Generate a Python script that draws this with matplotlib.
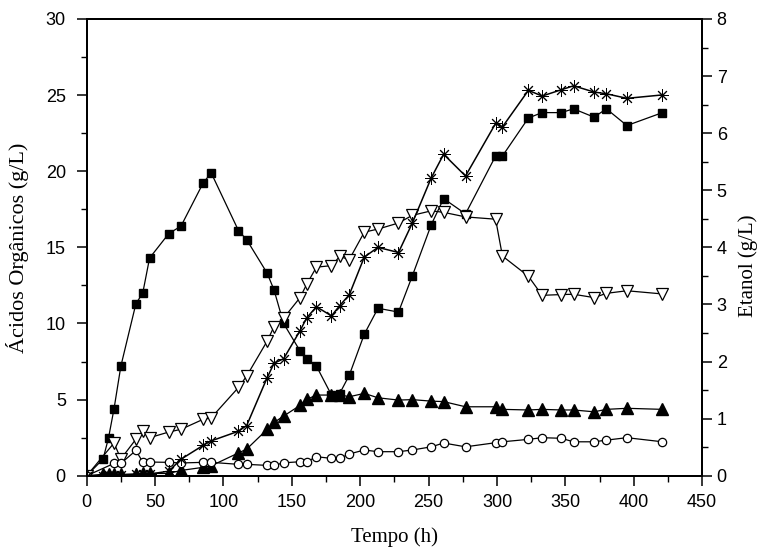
import matplotlib
matplotlib.use('Agg')
import matplotlib.pyplot as plt
from matplotlib.ticker import MultipleLocator

# Tempo (h) - common sampling times
tempo = [0, 12, 16, 20, 25, 36, 41, 46, 60, 69, 85, 91, 111, 117, 132, 137, 144,
         156, 161, 168, 179, 185, 192, 203, 213, 228, 238, 252, 261, 277, 299,
         304, 323, 333, 347, 356, 371, 380, 395, 421]

# filled squares (g/L, left axis)
quadrados = [0, 1.1, 2.5, 4.4, 7.2, 11.3, 12.0, 14.3, 15.9, 16.4, 19.2, 19.9, 16.1,
             15.5, 13.3, 12.2, 10.0, 8.2, 7.7, 7.2, 5.3, 5.4, 6.6, 9.3, 11.0, 10.75,
             13.1, 16.5, 18.2, 17.2, 21.0, 21.0, 23.5, 23.85, 23.85, 24.1, 23.55,
             24.1, 23.0, 23.85]

# open down triangles (g/L, left axis)
tempo_tri = [0, 20, 25, 36, 41, 46, 60, 69, 85, 91, 111, 117, 132, 137, 144, 156,
             161, 168, 179, 185, 192, 203, 213, 228, 238, 252, 261, 277, 299, 304,
             323, 333, 347, 356, 371, 380, 395, 421]
triangulos = [0, 2.15, 1.1, 2.4, 2.94, 2.5, 2.87, 3.05, 3.7, 3.8, 5.8, 6.55, 8.85,
              9.8, 10.35, 11.7, 12.6, 13.7, 13.8, 14.4, 14.2, 16.0, 16.2, 16.6,
              17.1, 17.4, 17.3, 17.0, 16.85, 14.43, 13.1, 11.85, 11.9, 11.92, 11.7,
              11.98, 12.15, 11.94]

# filled up triangles (g/L, left axis)
triangulos_ch = [0, 0.1, 0.1, 0.1, 0.1, 0.1, 0.15, 0.15, 0.15, 0.35, 0.55, 0.65, 1.5,
                 1.75, 3.05, 3.5, 3.92, 4.62, 5.02, 5.3, 5.3, 5.32, 5.19, 5.41, 5.12,
                 4.97, 5.0, 4.9, 4.87, 4.53, 4.53, 4.36, 4.32, 4.36, 4.32, 4.32, 4.2,
                 4.36, 4.43, 4.36]

# open circles (g/L, left axis)
circulos = [0, 0.81, 0.81, 1.66, 0.9, 0.9, 0.88, 0.84, 0.88, 0.88, 0.75, 0.75, 0.68,
            0.68, 0.85, 0.92, 0.92, 1.25, 1.14, 1.14, 1.43, 1.69, 1.58, 1.58, 1.69,
            1.9, 2.15, 1.9, 2.17, 2.23, 2.39, 2.5, 2.46, 2.23, 2.23, 2.34, 2.5, 2.23]

# etanol (g/L, right axis)
etanol = [0, 0, 0.01, 0.01, 0.01, 0.03, 0.03, 0.03, 0.08, 0.29, 0.53, 0.61, 0.78,
          0.88, 1.72, 1.97, 2.05, 2.54, 2.77, 2.96, 2.80, 2.98, 3.17, 3.83, 4.0,
          3.91, 4.42, 5.22, 5.63, 5.25, 6.17, 6.11, 6.75, 6.65, 6.76, 6.83, 6.72,
          6.69, 6.61, 6.67]

serif = ['Liberation Serif', 'DejaVu Serif']
plt.rcParams['font.family'] = ['Liberation Sans', 'DejaVu Sans']
plt.rcParams['font.size'] = 13

fig = plt.figure(figsize=(7.57, 5.5), dpi=100)
ax = fig.add_axes([0.1145, 0.135, 0.813, 0.8305])
ax2 = ax.twinx()

lw = 0.9
ax.plot(tempo, quadrados, color='black', lw=lw, marker='s', ms=6,
        mfc='black', mec='black', zorder=3)
ax.plot(tempo_tri, triangulos, color='black', lw=lw, marker='v', ms=8,
        mfc='white', mec='black', mew=0.9, zorder=3)
ax.plot(tempo, triangulos_ch, color='black', lw=lw, marker='^', ms=8,
        mfc='black', mec='black', zorder=3)
ax.plot(tempo_tri, circulos, color='black', lw=lw, marker='o', ms=6,
        mfc='white', mec='black', mew=0.9, zorder=3)
ax2.plot(tempo, etanol, color='black', lw=1.1, marker=(8, 2, 0), ms=9,
         mec='black', mew=0.7, zorder=3)

ax.set_xlim(0, 450)
ax.set_ylim(0, 30)
ax2.set_ylim(0, 8)

ax.xaxis.set_major_locator(MultipleLocator(50))
ax.xaxis.set_minor_locator(MultipleLocator(25))
ax.yaxis.set_major_locator(MultipleLocator(5))
ax.yaxis.set_minor_locator(MultipleLocator(2.5))
ax2.yaxis.set_major_locator(MultipleLocator(1))
ax2.yaxis.set_minor_locator(MultipleLocator(0.5))

for a in (ax, ax2):
    for s in a.spines.values():
        s.set_linewidth(1.4)
    a.tick_params(which='major', direction='out', length=7, width=1.1,
                  labelsize=13)
    a.tick_params(which='minor', direction='out', length=4, width=1.0)
ax.tick_params(axis='y', which='major', pad=8)
ax.tick_params(axis='x', which='major', pad=6)

ax.set_xlabel('Tempo (h)', family=serif, fontsize=15, labelpad=12)
ax.set_ylabel('Ácidos Orgânicos (g/L)', family=serif, fontsize=16, labelpad=12)
ax2.set_ylabel('Etanol (g/L)', family=serif, fontsize=15)
ax2.yaxis.set_label_coords(1.058, 0.46)

fig.savefig('out.png', dpi=100)
